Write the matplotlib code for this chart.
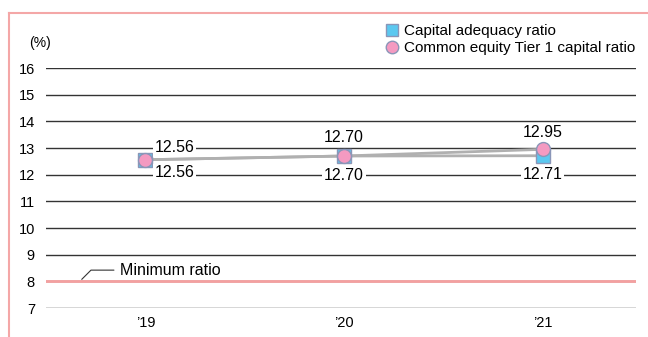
import matplotlib
matplotlib.use("Agg")
import matplotlib.pyplot as plt
from matplotlib.lines import Line2D
import numpy as np

years = ["’19", "’20", "’21"]
capital_adequacy = [12.56, 12.70, 12.71]
cet1 = [12.56, 12.70, 12.95]
minimum_ratio = 8
yticks = [7, 8, 9, 10, 11, 12, 13, 14, 15, 16]

plt.rcParams['font.family'] = ['Liberation Sans Narrow', 'Liberation Sans', 'DejaVu Sans']

fig = plt.figure(figsize=(6.48, 3.37), dpi=100)
ax = fig.add_axes([46/648, 29/337, 590/648, 240/337])
x = np.arange(len(years))

# frame
fig.add_artist(Line2D([9/648, 1], [1-13/337, 1-13/337], transform=fig.transFigure, color='#f4a7a7', lw=1.5))
fig.add_artist(Line2D([9/648, 9/648], [0, 1-13/337], transform=fig.transFigure, color='#f4a7a7', lw=1.5))

for yv in yticks:
    ax.axhline(yv, color='#333333', lw=1.0, zorder=1)
ax.axhline(minimum_ratio, color='#f4a0a0', lw=2.0, zorder=2)

ax.plot(x, capital_adequacy, color='#b0b0b0', lw=2, zorder=3)
ax.plot(x, cet1, color='#b0b0b0', lw=2, zorder=3)
ax.plot(x, capital_adequacy, ls='none', marker='s', ms=10, mfc='#5bc8f0', mec='#8a96b8', mew=1, zorder=4,
        label='Capital adequacy ratio')
ax.plot(x, cet1, ls='none', marker='o', ms=10, mfc='#f49ac1', mec='#8a96b8', mew=1, zorder=5,
        label='Common equity Tier 1 capital ratio')

bbox = dict(boxstyle='square,pad=0.1', fc='white', ec='none')
up_off = [(29, 12), (0, 18), (0, 17)]
dn_off = [(29, -13), (0, -19), (0, -19)]
for i in range(len(years)):
    ax.annotate(f"{cet1[i]:.2f}", (x[i], cet1[i]), xytext=up_off[i], textcoords='offset pixels',
                ha='center', va='center', fontsize=11.5, bbox=bbox, zorder=6)
    ax.annotate(f"{capital_adequacy[i]:.2f}", (x[i], capital_adequacy[i]), xytext=dn_off[i],
                textcoords='offset pixels', ha='center', va='center', fontsize=11.5, bbox=bbox, zorder=6)

# minimum ratio label with leader
ax.annotate("Minimum ratio", xy=(-0.33, minimum_ratio), xytext=(-0.13, 8.42),
            ha='left', va='center', fontsize=11.5,
            arrowprops=dict(arrowstyle='-', color='#333333', lw=0.8,
                            connectionstyle='angle,angleA=0,angleB=45,rad=0'))

ax.set_xlim(-0.5, 2.47)
ax.set_ylim(7, 16)
ax.set_xticks(x)
ax.set_xticklabels(years, fontsize=10.5)
ax.set_yticks(yticks)
ax.set_yticklabels([str(v) for v in yticks], fontsize=10.5)
ax.tick_params(length=0, pad=8)
ax.tick_params(axis='x', pad=6)
for s in ax.spines.values():
    s.set_visible(False)

fig.text(29/648, 1-43/337, "(%)", fontsize=10, va='center', ha='left')

leg = ax.legend(loc='upper left', bbox_to_anchor=(386/648, 1-24/337), bbox_transform=fig.transFigure,
                frameon=False, fontsize=11, handlelength=0.75, handletextpad=0.45, labelspacing=0.2,
                borderpad=0, borderaxespad=0, markerscale=0.9)

fig.savefig("out.png", dpi=100)
